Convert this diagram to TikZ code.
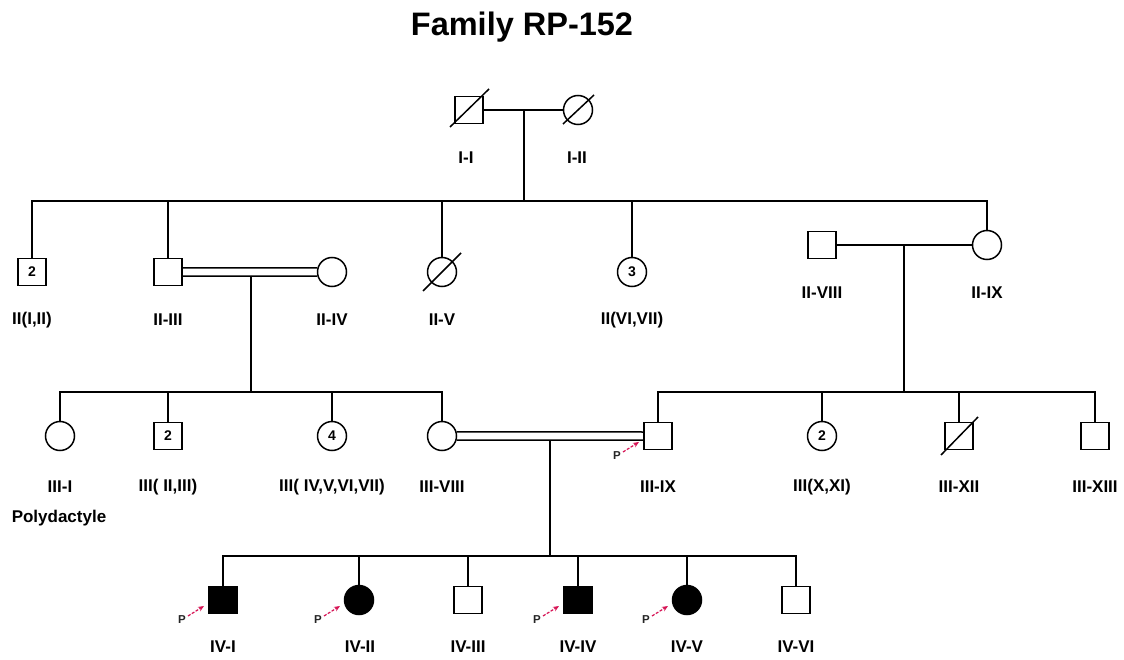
\documentclass[tikz,border=0pt]{standalone}
\usepackage{fontspec}
\setmainfont{Liberation Sans}
\usetikzlibrary{calc,arrows.meta}
\definecolor{pcol}{RGB}{215,20,85}
\begin{document}
\begin{tikzpicture}[x=1pt,y=-1pt,line width=1.5pt,
  sq/.style={draw,rectangle,minimum width=28pt,minimum height=27pt,inner sep=0pt,font=\bfseries\fontsize{14}{14}\selectfont},
  ci/.style={draw,circle,minimum size=29pt,inner sep=0pt,font=\bfseries\fontsize{14}{14}\selectfont},
  aff/.style={fill=black},
  lbl/.style={font=\bfseries\fontsize{17}{17}\selectfont,inner sep=0pt},
  ptxt/.style={font=\bfseries\fontsize{11.5}{11.5}\selectfont,inner sep=0pt,text=black!85},
  parrow/.style={draw=pcol,line width=1.2pt,dash pattern=on 3pt off 1.5pt,-{Stealth[length=6pt,width=5pt]}},
  slash/.style={line width=1.5pt}
]
\useasboundingbox (0,0) rectangle (1124,660);
\fill[white] (0,0) rectangle (1124,660);

\node[font=\bfseries\fontsize{32.5}{32.5}\selectfont] (title) at (522,27) {Family RP-152};

% Generation I
\node[sq] (I1) at (469,110) {};
\node[ci] (I2) at (578,110) {};
\draw[slash] ($(I1)+(-19,17)$) -- ($(I1)+(20,-21)$);
\draw[slash] ($(I2)+(-15,14)$) -- ($(I2)+(16,-15)$);
\draw (I1.east) -- (I2.west);
\coordinate (d1) at (524,110);
\coordinate (s2) at (524,201);
\draw (d1) -- (s2);
\node[lbl] (lI1) at (466,158) {I-I};
\node[lbl] (lI2) at (577,158) {I-II};

% Generation II
\node[sq] (II12) at (32,272) {2};
\node[sq] (II3) at (168,272) {};
\node[ci] (II4) at (332,272) {};
\node[ci] (II5) at (442,272) {};
\node[ci] (II67) at (632,272) {3};
\node[sq] (II8) at (822,245) {};
\node[ci] (II9) at (987,245) {};
\draw[slash] ($(II5)+(-19,19)$) -- ($(II5)+(19,-19)$);

\draw (II12.north) |- (II9.north |- s2) -- (II9.north);
\draw (II3.north) -- (II3.north |- s2);
\draw (II5.north) -- (II5.north |- s2);
\draw (II67.north) -- (II67.north |- s2);

\draw ([shift={(0,-4)}]II3.east) -- (II4.164);
\draw ([shift={(0,4)}]II3.east) -- (II4.196);
\draw (II8.east) -- (II9.west);

\node[lbl] (lII12) at (32,320) {II(I,II)};
\node[lbl] (lII3) at (168,320) {II-III};
\node[lbl] (lII4) at (332,320) {II-IV};
\node[lbl] (lII5) at (442,320) {II-V};
\node[lbl] (lII67) at (632,320) {II(VI,VII)};
\node[lbl] (lII8) at (822,293) {II-VIII};
\node[lbl] (lII9) at (987,293) {II-IX};

% Generation III
\node[ci] (III1) at (60,436) {};
\node[sq] (III23) at (168,436) {2};
\node[ci] (III47) at (332,436) {4};
\node[ci] (III8) at (442,436) {};
\node[sq] (III9) at (658,436) {};
\node[ci] (III1011) at (822,436) {2};
\node[sq] (III12) at (959,436) {};
\node[sq] (III13) at (1095,436) {};
\draw[slash] ($(III12)+(-18,19)$) -- ($(III12)+(19,-19)$);

% sibship from II-III x II-IV
\coordinate (d2) at (251,276);
\coordinate (s3a) at (251,392);
\draw (d2) -- (s3a);
\draw (III1.north) |- (III8.north |- s3a) -- (III8.north);
\draw (III23.north) -- (III23.north |- s3a);
\draw (III47.north) -- (III47.north |- s3a);

% sibship from II-VIII x II-IX
\coordinate (d3) at (904,245);
\coordinate (s3b) at (904,392);
\draw (d3) -- (s3b);
\draw (III9.north) |- (III13.north |- s3b) -- (III13.north);
\draw (III1011.north) -- (III1011.north |- s3b);
\draw (III12.north) -- (III12.north |- s3b);

% consanguineous couple III-VIII x III-IX
\draw (III8.16) -- ([shift={(0,-4)}]III9.west);
\draw (III8.344) -- ([shift={(0,4)}]III9.west);

\node[lbl] (lIII1) at (60,487) {III-I};
\node[lbl] (lIII23) at (168,487) {III( II,III)};
\node[lbl] (lIII47) at (332,487) {III( IV,V,VI,VII)};
\node[lbl] (lIII8) at (442,487) {III-VIII};
\node[lbl] (lIII9) at (658,487) {III-IX};
\node[lbl] (lIII1011) at (822,487) {III(X,XI)};
\node[lbl] (lIII12) at (959,487) {III-XII};
\node[lbl] (lIII13) at (1095,487) {III-XIII};
\node[lbl] (poly) at (59,518) {Polydactyle};

% Generation IV
\coordinate (d4) at (550,440);
\coordinate (s4) at (550,556);
\draw (d4) -- (s4);
\node[sq,aff] (IV1) at (223,600) {};
\node[ci,aff] (IV2) at (359,600) {};
\node[sq] (IV3) at (468,600) {};
\node[sq,aff] (IV4) at (578,600) {};
\node[ci,aff] (IV5) at (687,600) {};
\node[sq] (IV6) at (796,600) {};
\draw (IV1.north) |- (IV6.north |- s4) -- (IV6.north);
\foreach \n in {IV2,IV3,IV4,IV5} \draw (\n.north) -- (\n.north |- s4);

\node[lbl] (lIV1) at (223,647) {IV-I};
\node[lbl] (lIV2) at (360,647) {IV-II};
\node[lbl] (lIV3) at (468,647) {IV-III};
\node[lbl] (lIV4) at (578,647) {IV-IV};
\node[lbl] (lIV5) at (687,647) {IV-V};
\node[lbl] (lIV6) at (796,647) {IV-VI};

% probands
\foreach \n in {III9,IV1,IV2,IV4,IV5} {
  \draw[parrow] ($(\n)+(-35,16)$) -- ($(\n)+(-19,6)$);
  \node[ptxt] (p\n) at ($(\n)+(-41,20)$) {P};
}
\end{tikzpicture}
\end{document}
